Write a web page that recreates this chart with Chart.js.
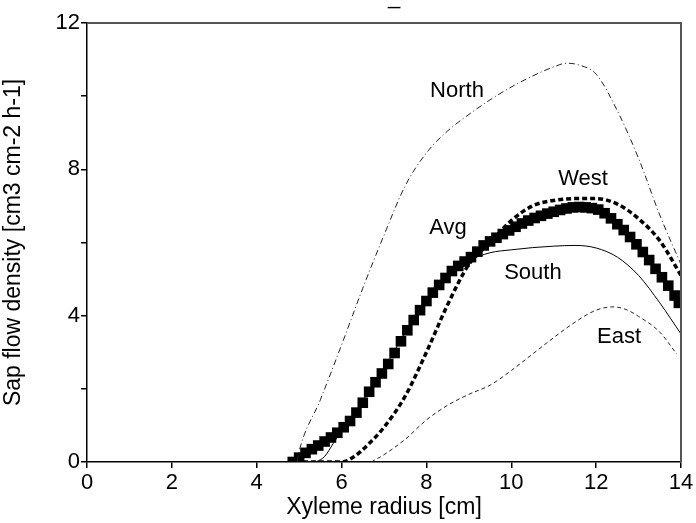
<!DOCTYPE html>
<html>
<head>
<meta charset="utf-8">
<script src="https://cdn.jsdelivr.net/npm/chart.js@4/dist/chart.umd.min.js"></script>
<style>
  body { margin: 0; background: #fff; }
  #wrap { width: 696px; height: 523px; }
</style>
</head>
<body>
<div id="wrap"><canvas id="grafica" width="696" height="523"></canvas></div>
<script>
// Sap flow profiles by side of the stem
const northX = [4.95, 5.0, 5.5, 6.0, 6.5, 7.0, 7.5, 8.0, 8.5, 9.0, 9.5, 10.0, 10.5, 11.0, 11.3, 11.6, 12.0, 12.5, 13.0, 13.5, 14.0];
const northY = [0, 0.3, 1.7, 3.2, 4.75, 6.2, 7.55, 8.45, 9.05, 9.5, 9.9, 10.25, 10.55, 10.8, 10.9, 10.85, 10.6, 9.6, 8.3, 6.75, 5.4];

const westX = [4.9, 5.5, 6.0, 6.3, 6.6, 7.0, 7.5, 8.0, 8.5, 9.0, 9.5, 10.0, 10.5, 11.0, 11.5, 12.0, 12.5, 13.0, 13.5, 14.0];
const westY = [0, 0, 0, 0.15, 0.45, 0.95, 1.8, 3.0, 4.3, 5.4, 6.0, 6.6, 7.0, 7.15, 7.2, 7.2, 7.05, 6.65, 6.05, 5.1];

const southX = [5.4, 5.6, 5.8, 6.0, 6.3, 6.6, 7.0, 7.5, 8.0, 8.5, 9.0, 9.5, 10.0, 10.5, 11.0, 11.5, 12.0, 12.5, 13.0, 13.5, 14.0];
const southY = [0, 0.15, 0.5, 0.85, 1.3, 1.85, 2.55, 3.55, 4.45, 5.1, 5.5, 5.72, 5.8, 5.86, 5.9, 5.92, 5.85, 5.6, 5.1, 4.35, 3.5];

const eastX = [6.7, 7.0, 7.5, 8.0, 8.5, 9.0, 9.5, 10.0, 10.5, 11.0, 11.5, 12.0, 12.4, 12.7, 13.0, 13.5, 13.9];
const eastY = [0, 0.2, 0.62, 1.15, 1.55, 1.85, 2.1, 2.5, 2.95, 3.4, 3.82, 4.15, 4.24, 4.17, 3.98, 3.55, 2.95];

const avgX = [4.85, 5.0, 5.15, 5.3, 5.45, 5.6, 5.75, 5.9, 6.05, 6.2, 6.35, 6.5, 6.65, 6.8, 6.95, 7.1, 7.25, 7.4, 7.55, 7.7,
  7.85, 8.0, 8.15, 8.3, 8.45, 8.6, 8.75, 8.9, 9.05, 9.2, 9.35, 9.5, 9.65, 9.8, 9.95, 10.1, 10.25, 10.4, 10.55, 10.7,
  10.85, 11.0, 11.15, 11.3, 11.45, 11.6, 11.75, 11.9, 12.05, 12.2, 12.35, 12.5, 12.65, 12.8, 12.95, 13.1, 13.25, 13.4, 13.55, 13.7,
  13.85, 13.95];
const avgY = [0, 0.12, 0.25, 0.35, 0.45, 0.56, 0.67, 0.8, 0.95, 1.12, 1.35, 1.62, 1.92, 2.18, 2.42, 2.68, 2.98, 3.3, 3.6, 3.88,
  4.15, 4.4, 4.63, 4.84, 5.03, 5.22, 5.36, 5.48, 5.6, 5.75, 5.92, 6.03, 6.13, 6.23, 6.33, 6.43, 6.52, 6.6, 6.67, 6.73,
  6.79, 6.84, 6.89, 6.93, 6.96, 6.97, 6.96, 6.94, 6.9, 6.8, 6.66, 6.5, 6.34, 6.15, 5.95, 5.74, 5.52, 5.28, 5.05, 4.82,
  4.55, 4.35];

const xTicks = [0, 2, 4, 6, 8, 10, 12, 14];
const yTicks = [0, 4, 8, 12];

// curve labels, in data units
const curveNames = ['North', 'West', 'Avg', 'South', 'East'];
const nameX = [8.72, 11.69, 8.51, 10.51, 12.54];
const nameY = [10.14, 7.74, 6.4, 5.17, 3.42];

function pts(xs, ys) {
  return xs.map((x, i) => ({ x: x, y: ys[i] }));
}

const fnt = '"Liberation Sans", Arial, Helvetica, sans-serif';

const frame = {
  id: 'frame',
  afterDraw(chart) {
    const a = chart.chartArea, ctx = chart.ctx;
    ctx.save();
    ctx.strokeStyle = '#555';
    ctx.lineWidth = 2;
    ctx.beginPath();
    ctx.moveTo(a.left, a.top);
    ctx.lineTo(a.right, a.top);
    ctx.lineTo(a.right, a.bottom);
    ctx.stroke();
    ctx.fillStyle = '#000';
    ctx.font = '22px ' + fnt;
    ctx.textAlign = 'center';
    ctx.textBaseline = 'middle';
    const xs = chart.scales.x, ys = chart.scales.y;
    curveNames.forEach((n, i) => {
      ctx.fillText(n, xs.getPixelForValue(nameX[i]), ys.getPixelForValue(nameY[i]));
    });
    ctx.textBaseline = 'alphabetic';
    ctx.fillText('_', 394, 4);
    ctx.restore();
  }
};

const graph = document.querySelector('#grafica');

new Chart(graph, {
  type: 'scatter',
  data: {
    datasets: [
      { label: 'North', data: pts(northX, northY), showLine: true, borderColor: '#222', borderWidth: 1,
        borderDash: [6, 3, 1, 3], pointRadius: 0, cubicInterpolationMode: 'monotone' },
      { label: 'East', data: pts(eastX, eastY), showLine: true, borderColor: '#222', borderWidth: 1,
        borderDash: [4, 3], pointRadius: 0, cubicInterpolationMode: 'monotone' },
      { label: 'South', data: pts(southX, southY), showLine: true, borderColor: '#000', borderWidth: 1,
        pointRadius: 0, cubicInterpolationMode: 'monotone' },
      { label: 'West', data: pts(westX, westY), showLine: true, borderColor: '#000', borderWidth: 3.5,
        borderDash: [5, 3], pointRadius: 0, cubicInterpolationMode: 'monotone' },
      { label: 'Avg', data: pts(avgX, avgY), showLine: false, pointStyle: 'rect',
        pointRadius: 7.5, pointBackgroundColor: '#000', pointBorderWidth: 0 }
    ]
  },
  options: {
    responsive: false,
    animation: false,
    layout: { padding: { top: 23, right: 15, left: 0, bottom: 0 } },
    plugins: { legend: { display: false }, tooltip: { enabled: false } },
    scales: {
      x: {
        type: 'linear', min: 0, max: 14,
        afterFit(s) { s.height = 61; },
        afterBuildTicks(s) { s.ticks = xTicks.map(v => ({ value: v })); },
        border: { color: '#000', width: 1.5 },
        grid: { drawOnChartArea: false, drawTicks: true, tickLength: 6, color: '#000', lineWidth: 1.5 },
        ticks: { color: '#000', padding: 2, maxRotation: 0, font: { family: fnt, size: 22 } },
        title: { display: true, text: 'Xyleme radius [cm]', color: '#000', padding: { top: 0, bottom: 2 },
          font: { family: fnt, size: 23 } }
      },
      y: {
        min: 0, max: 12,
        afterFit(s) { s.width = 87; },
        ticks: { stepSize: 2, color: '#000', padding: 1, font: { family: fnt, size: 22 },
          callback: v => yTicks.includes(v) ? String(v) : '' },
        border: { color: '#000', width: 1.5 },
        grid: { drawOnChartArea: false, drawTicks: true, tickLength: 6, color: '#000', lineWidth: 1.5 },
        title: { display: true, text: 'Sap flow density [cm3 cm-2 h-1]', color: '#000', padding: { top: 0, bottom: 4 },
          font: { family: fnt, size: 23 } }
      }
    }
  },
  plugins: [frame]
});
</script>
</body>
</html>
